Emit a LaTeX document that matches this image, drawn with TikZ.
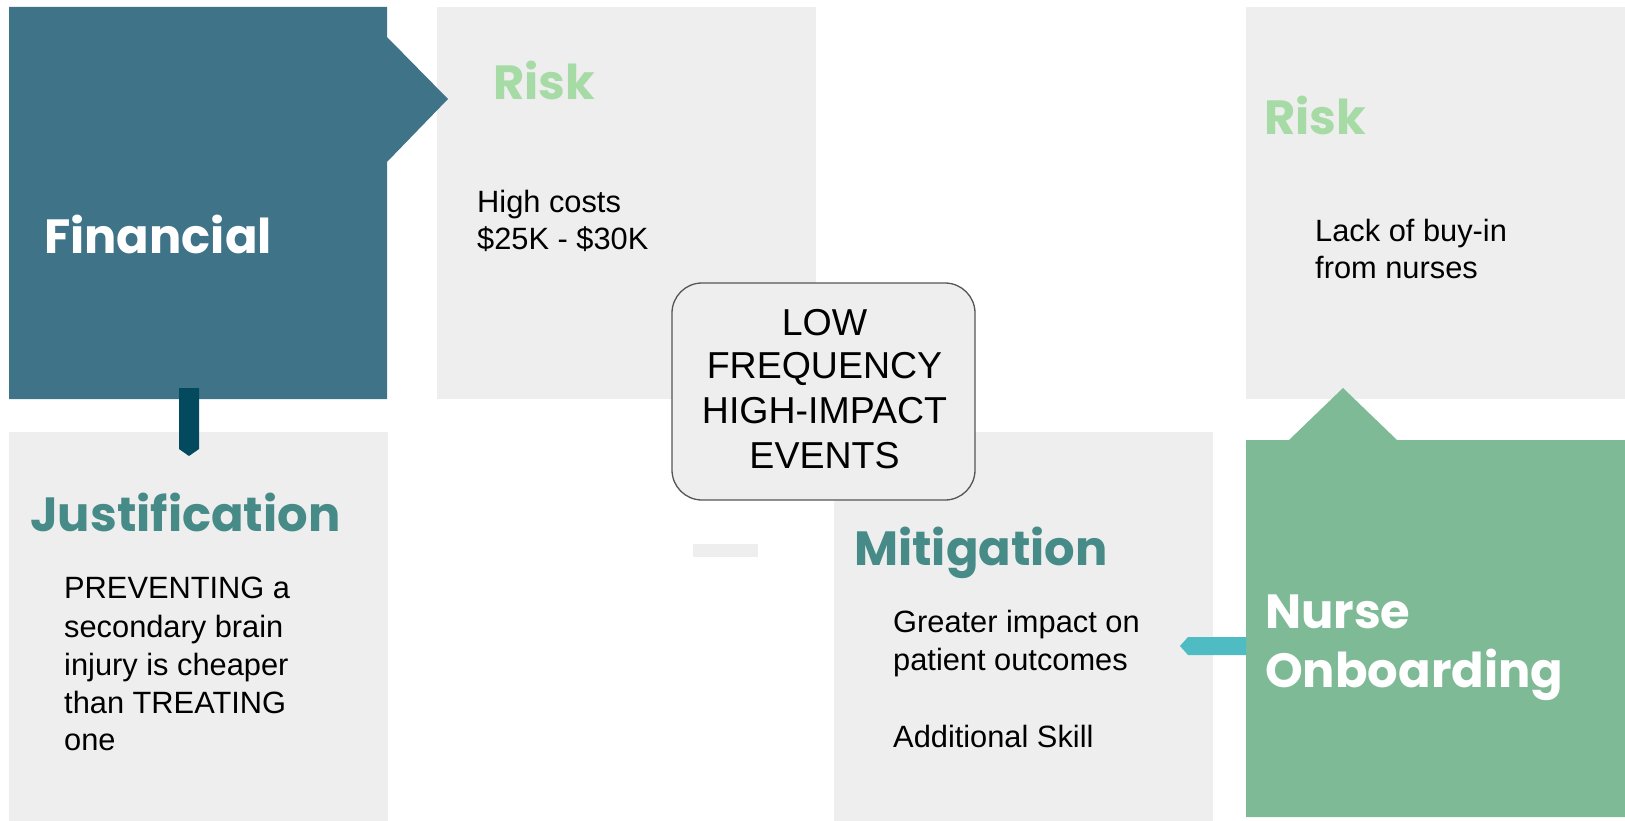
\documentclass[tikz,border=0pt]{standalone}
\usepackage{fontspec}
\setmainfont{Liberation Sans}
\newfontfamily\pop{Poppins}
\definecolor{fin}{HTML}{3F7388}
\definecolor{boxgray}{HTML}{EEEEEE}
\definecolor{nurse}{HTML}{7DBA95}
\definecolor{risktxt}{HTML}{A6DBA6}
\definecolor{teal}{HTML}{468B87}
\definecolor{darkcon}{HTML}{044A5E}
\definecolor{cyancon}{HTML}{4FBBC2}
\definecolor{centerborder}{HTML}{555555}
\tikzset{
  titletxt/.style={font=\pop\bfseries\fontsize{48}{58}\selectfont, anchor=base west, inner sep=0pt},
  bodytxt/.style={font=\fontsize{30.8}{37}\selectfont, anchor=base west, inner sep=0pt, text=black},
  centertxt/.style={font=\fontsize{37.5}{45}\selectfont, anchor=base, inner sep=0pt, text=black},
  graybox/.style={fill=boxgray, draw=none},
}
\begin{document}
\begin{tikzpicture}[x=1pt,y=-1pt]
\useasboundingbox (0,0) rectangle (1625,821);
% gray boxes
\fill[graybox] (437,7) rectangle (816,399);
\fill[graybox] (1246,7) rectangle (1625,399);
\fill[graybox] (9,432) rectangle (388,821);
\fill[graybox] (834,432) rectangle (1213,821);
\fill[graybox] (693,544) rectangle (758,557);
% financial shape
\fill[fin] (9,7) -- (387,7) -- (387,37) -- (448,99) -- (387,162) -- (387,399) -- (9,399) -- cycle;
% nurse shape
\fill[nurse] (1246,440) -- (1289,440) -- (1343,388) -- (1397,440) -- (1625,440) -- (1625,817) -- (1246,817) -- cycle;
% connectors
\fill[darkcon] (179,388) -- (199,388) -- (199,449) -- (189,456) -- (179,449) -- cycle;
\fill[cyancon] (1246,637) -- (1188,637) -- (1180,646) -- (1188,655) -- (1246,655) -- cycle;
% center box
\node[draw=centerborder, line width=1.3pt, fill=boxgray, rounded corners=30pt, minimum width=303pt, minimum height=217pt, inner sep=0pt] (center) at (823.5,391.5) {};
\node[centertxt] (c1) at (824.5,335) {LOW};
\node[centertxt] (c2) at (824.5,378) {FREQUENCY};
\node[centertxt] (c3) at (824.5,423) {HIGH-IMPACT};
\node[centertxt] (c4) at (824.5,468) {EVENTS};
% titles
\node[titletxt, text=white] (fin) at (44,253) {Financial};
\node[titletxt, text=risktxt] (risk1) at (493,100) {Risk};
\node[titletxt, text=risktxt] (risk2) at (1264,135) {Risk};
\node[titletxt, text=teal] (just) at (30,531) {Justification};
\node[titletxt, text=teal] (miti) at (854,565) {Mitigation};
\node[titletxt, text=white] (nurse1) at (1265,628) {Nurse};
\node[titletxt, text=white] (nurse2) at (1265,687) {Onboarding};
% body texts
\node[bodytxt] (r1a) at (477,213) {High costs};
\node[bodytxt] (r1b) at (477,250) {\$25K - \$30K};
\node[bodytxt] (r2a) at (1315,242) {Lack of buy-in};
\node[bodytxt] (r2b) at (1315,278) {from nurses};
\node[bodytxt] (j1) at (64,598) {PREVENTING a};
\node[bodytxt] (j2) at (64,637) {secondary brain};
\node[bodytxt] (j3) at (64,675) {injury is cheaper};
\node[bodytxt] (j4) at (64,713) {than TREATING};
\node[bodytxt] (j5) at (64,750) {one};
\node[bodytxt] (m1) at (893,632) {Greater impact on};
\node[bodytxt] (m2) at (893,670) {patient outcomes};
\node[bodytxt] (m3) at (893,747) {Additional Skill};
\end{tikzpicture}
\end{document}
